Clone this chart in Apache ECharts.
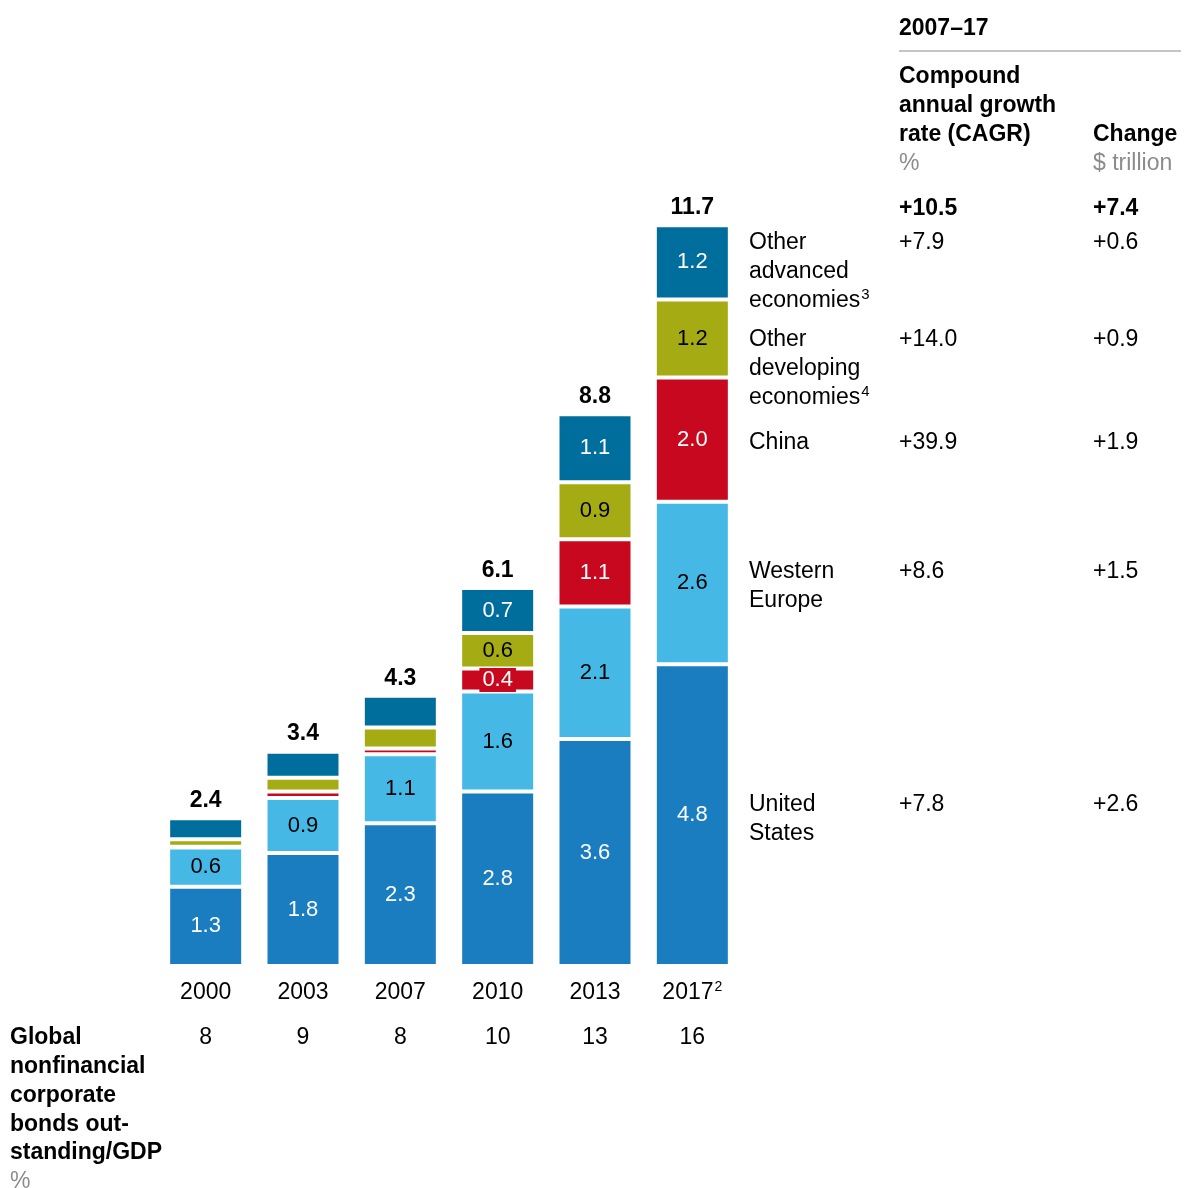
<!DOCTYPE html>
<html>
<head>
<meta charset="utf-8">
<script src="https://cdn.jsdelivr.net/npm/echarts@6/dist/echarts.min.js"></script>
<style>
  html, body { margin: 0; padding: 0; background: #fff; }
  #chart { width: 1184px; height: 1188px; }
</style>
</head>
<body>
<div id="chart"></div>
<script>
// ---- Data ----
const categories = ['2000', '2003', '2007', '2010', '2013', '2017'];
const yearNotes = ['', '', '', '', '', '2'];
const unitedStates = [1.25, 1.78, 2.25, 2.75, 3.58, 4.76];
const westernEurope = [0.62, 0.87, 1.09, 1.58, 2.09, 2.56];
const china = [0.01, 0.1, 0.09, 0.36, 1.06, 1.96];
const otherDeveloping = [0.12, 0.22, 0.33, 0.56, 0.9, 1.23];
const otherAdvanced = [0.33, 0.41, 0.5, 0.71, 1.07, 1.17];
const totals = [2.4, 3.4, 4.3, 6.1, 8.8, 11.7];
const bondsToGdp = [8, 9, 8, 10, 13, 16];

const regionNames = ['Other\nadvanced\neconomies{sup|3}', 'Other\ndeveloping\neconomies{sup|4}', 'China', 'Western\nEurope', 'United\nStates'];
const cagr = ['+7.9', '+14.0', '+39.9', '+8.6', '+7.8'];
const change = ['+0.6', '+0.9', '+1.9', '+1.5', '+2.6'];
const totalCagr = '+10.5';
const totalChange = '+7.4';
const periodLabel = '2007–17';
const cagrHeader = 'Compound\nannual growth\nrate (CAGR)';
const cagrUnit = '%';
const changeHeader = 'Change';
const changeUnit = '$ trillion';
const ratioTitle = 'Global\nnonfinancial\ncorporate\nbonds out-\nstanding/GDP';
const ratioUnit = '%';

// ---- Styles ----
const FONT = '"Liberation Sans", Arial, Helvetica, sans-serif';
const FS = 23;
const FS_IN = 22;
const colors = {
  us: '#1a7dc0',
  we: '#46b8e6',
  cn: '#c8081e',
  od: '#a5ab12',
  oa: '#006e9c'
};

function barSeries(name, data, color, textColor, labelFrom, labelBg) {
  return {
    name: name,
    type: 'bar',
    stack: 'total',
    barWidth: 75,
    data: data.map((v, i) => ({
      value: v,
      label: { show: i >= labelFrom }
    })),
    itemStyle: { color: color, borderColor: '#ffffff', borderWidth: 2 },
    label: {
      show: true,
      position: 'inside',
      color: textColor,
      fontFamily: FONT,
      fontSize: FS_IN,
      backgroundColor: labelBg || 'transparent',
      padding: labelBg ? [2, 3, 0, 3] : 0,
      formatter: p => p.value.toFixed(1)
    },
    emphasis: { disabled: true },
    silent: true
  };
}

const series = [
  barSeries('United States', unitedStates, colors.us, '#ffffff', 0),
  barSeries('Western Europe', westernEurope, colors.we, '#000000', 0),
  barSeries('China', china, colors.cn, '#ffffff', 3, colors.cn),
  barSeries('Other developing economies', otherDeveloping, colors.od, '#000000', 3),
  barSeries('Other advanced economies', otherAdvanced, colors.oa, '#ffffff', 3),
  {
    name: 'Total',
    type: 'bar',
    stack: 'total',
    barWidth: 75,
    data: totals.map(() => 0),
    itemStyle: { color: 'rgba(0,0,0,0)' },
    label: {
      show: true,
      position: 'top',
      distance: 6,
      color: '#000000',
      opacity: 1,
      fontFamily: FONT,
      fontSize: FS,
      fontWeight: 'bold',
      formatter: p => totals[p.dataIndex].toFixed(1)
    },
    emphasis: { disabled: true },
    silent: true,
    z: 10
  }
];

// ---- Right-hand table & texts ----
const rowCenters = [241, 338, 441, 570, 803];
const LH = 28.6;
const DY = 2;
const graphic = [];
function txt(x, y, text, opts) {
  opts = opts || {};
  graphic.push({
    type: 'text',
    x: x,
    y: y + DY,
    silent: true,
    style: {
      text: text,
      fill: opts.fill || '#000',
      fontFamily: FONT,
      fontSize: opts.fontSize || FS,
      fontWeight: opts.bold ? 'bold' : 'normal',
      lineHeight: opts.lineHeight || LH,
      align: 'left',
      verticalAlign: 'top',
      rich: {
        sup: { fontSize: 15, fontFamily: FONT, fill: opts.fill || '#000', verticalAlign: 'top', lineHeight: 18, padding: [1, 0, 0, 1] }
      }
    }
  });
}
regionNames.forEach((n, i) => {
  txt(749, rowCenters[i] - LH / 2, n);
  txt(899, rowCenters[i] - LH / 2, cagr[i]);
  txt(1093, rowCenters[i] - LH / 2, change[i]);
});
txt(899, 207 - LH / 2, totalCagr, { bold: true });
txt(1093, 207 - LH / 2, totalChange, { bold: true });
txt(899, 27 - LH / 2, periodLabel, { bold: true });
graphic.push({
  type: 'line', silent: true,
  shape: { x1: 899, y1: 51, x2: 1181, y2: 51 },
  style: { stroke: '#c4c4c4', lineWidth: 2 }
});
txt(899, 75 - 29 / 2, cagrHeader, { bold: true, lineHeight: 29 });
txt(899, 162 - LH / 2, cagrUnit, { fill: '#8c8c8c' });
txt(1093, 133 - LH / 2, changeHeader, { bold: true });
txt(1093, 162 - LH / 2, changeUnit, { fill: '#8c8c8c' });
txt(10, 1036 - 28.75 / 2, ratioTitle, { bold: true, lineHeight: 28.75 });
txt(10, 1180 - LH / 2, ratioUnit, { fill: '#8c8c8c' });

const chart = echarts.init(document.getElementById('chart'), null, { renderer: 'canvas' });
chart.setOption({
  animation: false,
  backgroundColor: '#ffffff',
  textStyle: { fontFamily: FONT },
  grid: { left: 157, right: 443, top: 205, bottom: 222, containLabel: false, outerBoundsMode: 'none' },
  xAxis: [
    {
      type: 'category',
      data: categories,
      axisLine: { show: false },
      axisTick: { show: false },
      axisLabel: {
        margin: 14,
        formatter: (v, i) => yearNotes[i] ? '{y|' + v + '}{s|' + yearNotes[i] + '}' : '{y|' + v + '}',
        rich: {
          y: { fontSize: FS, color: '#000', fontFamily: FONT, lineHeight: 26 },
          s: { fontSize: 14, color: '#000', fontFamily: FONT, verticalAlign: 'top', lineHeight: 18, padding: [0, 0, 0, 1] }
        }
      }
    },
    {
      type: 'category',
      data: categories,
      position: 'bottom',
      offset: 46,
      axisLine: { show: false },
      axisTick: { show: false },
      axisLabel: {
        margin: 14,
        color: '#000',
        fontSize: FS,
        fontFamily: FONT,
        formatter: (v, i) => String(bondsToGdp[i])
      }
    }
  ],
  yAxis: {
    type: 'value',
    min: 0,
    max: 12,
    show: false,
    splitLine: { show: false }
  },
  series: series,
  graphic: graphic
});
</script>
</body>
</html>
